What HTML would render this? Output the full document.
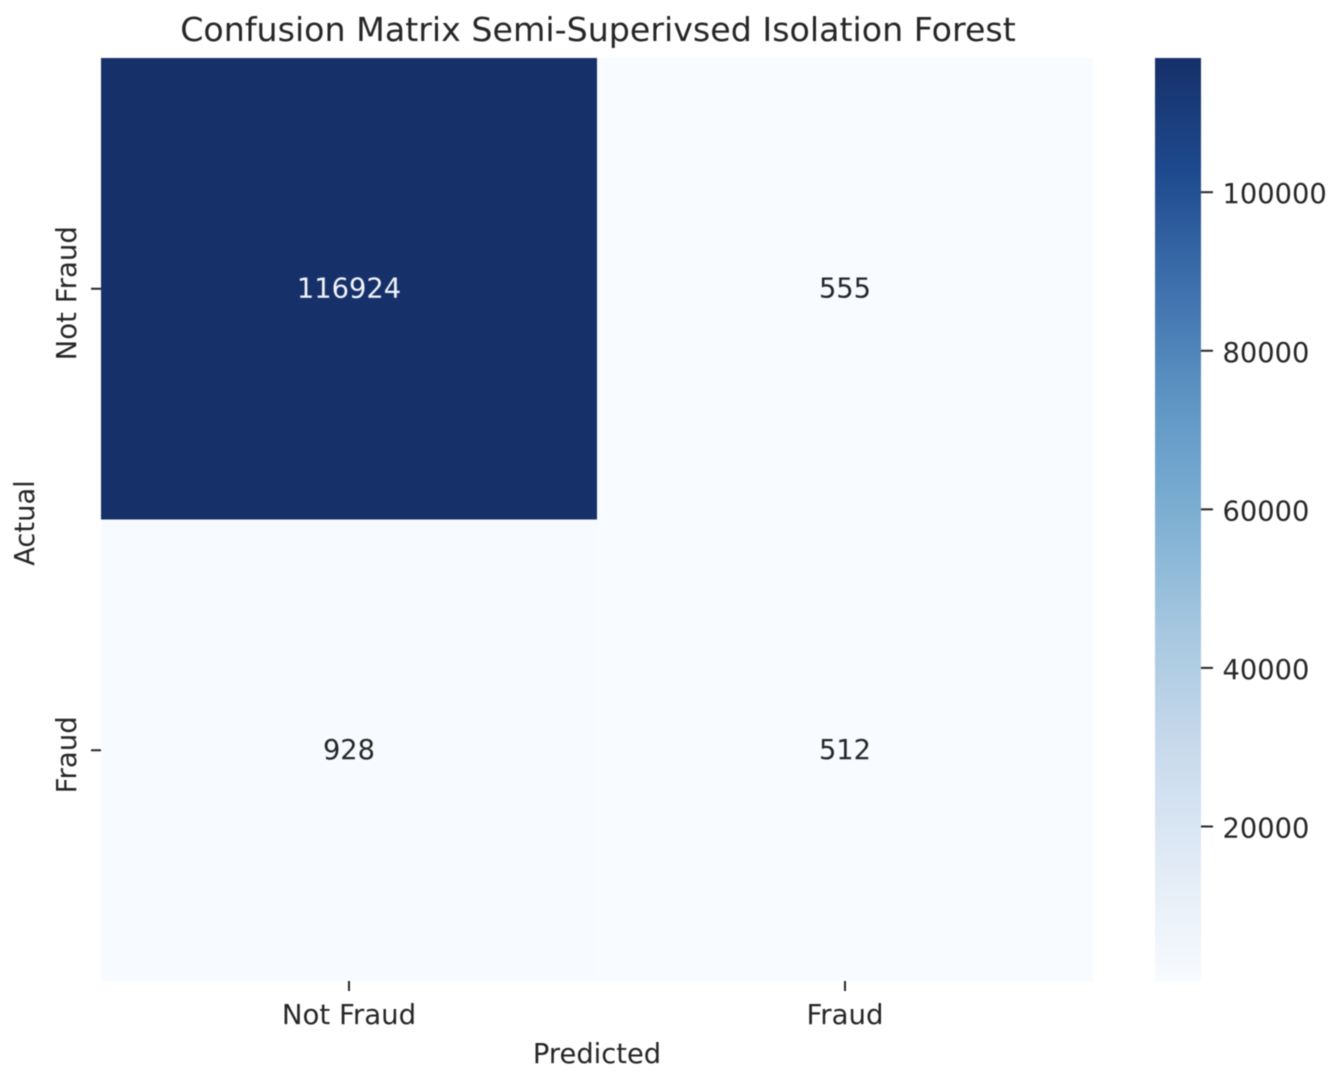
<!DOCTYPE html>
<html>
<head>
<meta charset="utf-8">
<style>
html,body{margin:0;padding:0;background:#fff;width:1338px;height:1084px;overflow:hidden}
svg{display:block;filter:blur(0.6px)}
text{font-family:"DejaVu Sans","Liberation Sans",sans-serif;fill:#262626}
</style>
</head>
<body>
<svg id="chart" xmlns="http://www.w3.org/2000/svg" width="1338" height="1084" viewBox="0 0 1338 1084">
<defs><linearGradient id="cbar-gradient" x1="0" y1="1" x2="0" y2="0"></linearGradient></defs>
<g id="cells"></g>
<g id="annots"></g>
<g id="xaxis"></g>
<g id="yaxis"></g>
<g id="cbar"></g>
<text x="598" y="41" font-size="33.25" text-anchor="middle">Confusion Matrix Semi-Superivsed Isolation Forest</text>
<text x="597" y="1063" font-size="27.3" text-anchor="middle">Predicted</text>
<text transform="translate(34,523) rotate(-90)" font-size="27.3" text-anchor="middle">Actual</text>
</svg>
<script>
const categories = ["Not Fraud", "Fraud"];
const rowLabels = ["Not Fraud", "Fraud"];
const matrix = [[116924, 555], [928, 512]];
const colorbarTicks = [20000, 40000, 60000, 80000, 100000];

const SVGNS = "http://www.w3.org/2000/svg";
const plot = {left: 101, right: 1093, top: 58, bottom: 981};
const bar = {left: 1155, right: 1201, top: 58, bottom: 981};
const blues = ["#f8fbff","#e1ebf6","#c9daec","#a7c8e0","#7fb0d3","#5f96c5","#3f71ae","#1f4a8f","#16306a"];
const allValues = matrix.flat();
const vmin = Math.min(...allValues);
const vmax = Math.max(...allValues);

function make(tag, attrs, parent, text) {
  const el = document.createElementNS(SVGNS, tag);
  for (const k in attrs) el.setAttribute(k, attrs[k]);
  if (text !== undefined) el.textContent = text;
  parent.appendChild(el);
  return el;
}
function hexToRgb(h) {
  return [1, 3, 5].map(i => parseInt(h.substr(i, 2), 16));
}
function colorFor(t) {
  t = Math.max(0, Math.min(1, t));
  const pos = t * (blues.length - 1);
  const i = Math.min(Math.floor(pos), blues.length - 2);
  const f = pos - i;
  const a = hexToRgb(blues[i]);
  const b = hexToRgb(blues[i + 1]);
  return "rgb(" + a.map((v, k) => Math.round(v + (b[k] - v) * f)).join(",") + ")";
}
function norm(v) { return (v - vmin) / (vmax - vmin); }
function xBand(i) { return plot.left + (plot.right - plot.left) * i / categories.length; }
function yBand(i) { return plot.top + (plot.bottom - plot.top) * i / rowLabels.length; }
function barY(v) { return bar.bottom - norm(v) * (bar.bottom - bar.top); }

const cellsG = document.getElementById("cells");
const annotsG = document.getElementById("annots");
const xaxisG = document.getElementById("xaxis");
const yaxisG = document.getElementById("yaxis");
const cbarG = document.getElementById("cbar");

matrix.forEach((row, r) => {
  row.forEach((v, c) => {
    const x0 = xBand(c), x1 = xBand(c + 1), y0 = yBand(r), y1 = yBand(r + 1);
    const cell = make("rect", {x: x0, y: y0, width: x1 - x0, height: y1 - y0, fill: colorFor(norm(v))}, cellsG);
    
    
    const label = make("text", {
      x: (x0 + x1) / 2, y: (y0 + y1) / 2 + 8.5, "font-size": 27.3, "text-anchor": "middle",
      style: "fill:" + (norm(v) > 0.5 ? "#f0f3f8" : "#262626")
    }, annotsG, String(v));
    
    
  });
});

categories.forEach((name, i) => {
  const x = (xBand(i) + xBand(i + 1)) / 2;
  const tick = make("line", {x1: x, x2: x, y1: plot.bottom, y2: plot.bottom + 10, stroke: "#262626", "stroke-width": 2}, xaxisG);
  
  
  const label = make("text", {x: x, y: 1024, "font-size": 27.6, "text-anchor": "middle"}, xaxisG, name);
  
  
});

rowLabels.forEach((name, i) => {
  const y = (yBand(i) + yBand(i + 1)) / 2;
  const tick = make("line", {x1: plot.left - 10, x2: plot.left, y1: y, y2: y, stroke: "#262626", "stroke-width": 2}, yaxisG);
  
  
  const label = make("text", {transform: "translate(76," + (y + 4.5) + ") rotate(-90)", "font-size": 27.6, "text-anchor": "middle"}, yaxisG, name);
  
  
});

const grad = document.getElementById("cbar-gradient");
blues.forEach((c, i) => {
  make("stop", {offset: i / (blues.length - 1), "stop-color": c}, grad);
});
const barRect = make("rect", {x: bar.left, y: bar.top, width: bar.right - bar.left, height: bar.bottom - bar.top, fill: "url(#cbar-gradient)"}, cbarG);



colorbarTicks.forEach(v => {
  const y = barY(v);
  const tick = make("line", {x1: bar.right, x2: bar.right + 12, y1: y, y2: y, stroke: "#262626", "stroke-width": 2}, cbarG);
  
  
  const label = make("text", {x: 1222.5, y: y + 11, "font-size": 27.3}, cbarG, String(v));
  
  
});
</script>
</body>
</html>
